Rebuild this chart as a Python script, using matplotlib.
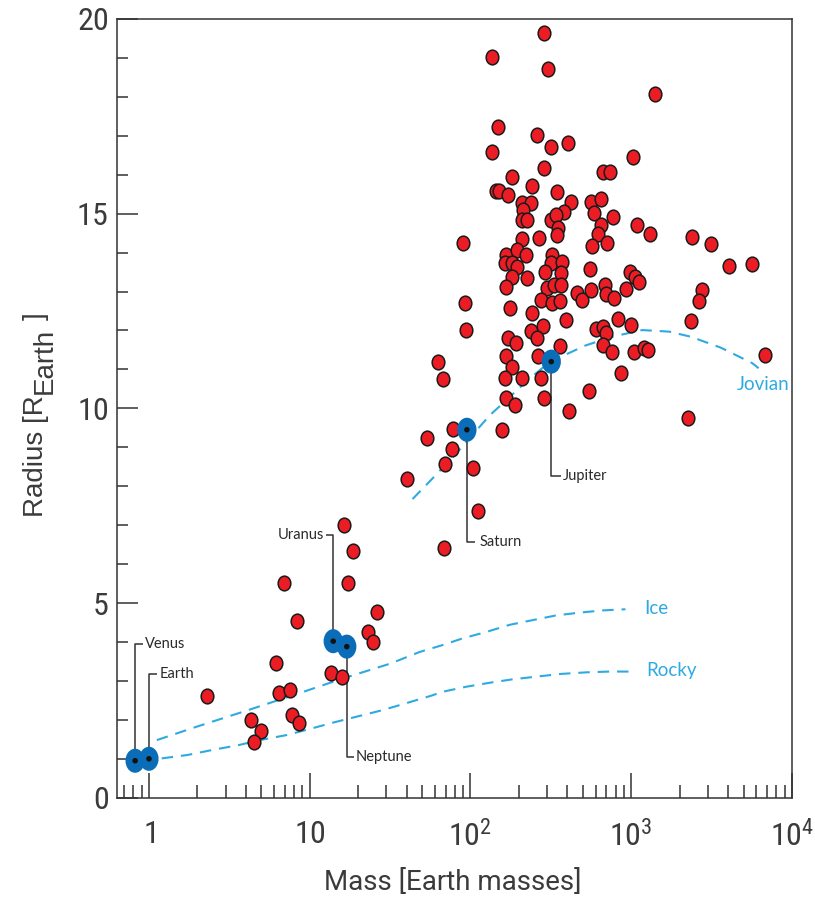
import numpy as np
import matplotlib
matplotlib.use('Agg')
import matplotlib.pyplot as plt
from matplotlib import font_manager as fm
from matplotlib.path import Path
from matplotlib.transforms import Affine2D
from matplotlib.ticker import FixedLocator, FixedFormatter, LogLocator, MultipleLocator, NullFormatter

# ---------------- data ----------------
exo_mass = [288, 137, 305, 1410, 149, 261, 318, 406, 137, 1030,
            288, 182, 670, 741, 243, 145, 151, 170, 347, 424,
            565, 651, 210, 239, 384, 589, 773, 213, 210, 226,
            318, 342, 352, 347, 651, 624, 1090, 1310, 2390, 3140,
            89.2, 210, 268, 572, 709, 167, 196, 220, 163, 182,
            323, 318, 373, 4060, 5650, 196, 180, 226, 292, 367,
            556, 986, 1060, 1120, 167, 301, 332, 367, 462, 496,
            565, 690, 699, 784, 931, 2760, 2640, 91.8, 276, 323,
            362, 175, 243, 395, 830, 1000, 2360, 94.4, 239, 284,
            261, 606, 670, 699, 172, 193, 670, 762, 362, 1040,
            1200, 1280, 62.4, 67.0, 167, 264, 180, 163, 210, 276,
            867, 6800, 548, 288, 167, 188, 412, 2260, 53.3, 77.3,
            156, 76.2, 69.9, 40.0, 104, 112, 68.0,
            2.29, 4.30, 4.96, 4.49, 6.15, 6.42, 7.51, 7.73, 8.54, 6.90,
            8.30, 13.5, 15.8, 16.3, 18.5, 17.2, 26.1, 22.9, 24.6]
exo_radius = [19.64, 19.03, 18.72, 18.08, 17.23, 17.02, 16.71, 16.82, 16.59, 16.46,
              16.18, 15.94, 16.07, 16.07, 15.71, 15.58, 15.58, 15.48, 15.56, 15.30,
              15.30, 15.38, 15.28, 15.28, 15.04, 15.02, 14.92, 15.10, 14.84, 14.84,
              14.84, 14.97, 14.63, 14.45, 14.71, 14.48, 14.71, 14.48, 14.40, 14.22,
              14.25, 14.35, 14.38, 14.17, 14.25, 13.94, 14.07, 13.94, 13.73, 13.73,
              13.94, 13.73, 13.76, 13.66, 13.71, 13.63, 13.38, 13.35, 13.50, 13.48,
              13.58, 13.50, 13.38, 13.25, 13.12, 13.09, 13.17, 13.17, 12.96, 12.78,
              13.04, 13.17, 12.94, 12.84, 13.07, 13.04, 12.76, 12.71, 12.78, 12.71,
              12.76, 12.58, 12.45, 12.27, 12.30, 12.14, 12.25, 12.01, 11.99, 12.12,
              11.81, 12.04, 12.09, 11.94, 11.81, 11.68, 11.63, 11.45, 11.60, 11.45,
              11.55, 11.50, 11.19, 10.76, 11.35, 11.35, 11.06, 10.78, 10.78, 10.78,
              10.91, 11.37, 10.45, 10.27, 10.27, 10.09, 9.93, 9.75, 9.24, 9.47,
              9.45, 8.96, 8.57, 8.19, 8.47, 7.36, 6.41,
              2.61, 2.00, 1.71, 1.43, 3.46, 2.69, 2.77, 2.12, 1.92, 5.51,
              4.54, 3.20, 3.10, 7.00, 6.34, 5.51, 4.77, 4.26, 4.00]

planet_names = ['Venus', 'Earth', 'Uranus', 'Neptune', 'Saturn', 'Jupiter']
planet_mass = [0.82, 1.0, 14.0, 17.0, 95.0, 318.0]
planet_radius = [0.95, 1.0, 4.02, 3.88, 9.45, 11.2]

rocky_mass = [1.2, 1.75, 2.5, 3.6, 4.9, 7.2, 10.3, 14.3, 20.4, 28.4, 40, 57, 67, 94,
              135, 182, 257, 367, 525, 730, 980]
rocky_radius = [1.01, 1.10, 1.23, 1.35, 1.48, 1.61, 1.78, 1.94, 2.10, 2.25, 2.43, 2.62,
                2.72, 2.85, 2.96, 3.04, 3.11, 3.18, 3.22, 3.24, 3.24]

ice_mass = [1.12, 2, 4, 8, 16, 32, 48, 67, 89, 126, 175, 243, 339, 468, 660, 920]
ice_radius = [1.48, 1.83, 2.23, 2.64, 3.06, 3.45, 3.74, 3.92, 4.09, 4.26, 4.44, 4.56,
              4.68, 4.75, 4.81, 4.84]

jovian_mass = [43.6, 61.3, 85.2, 131, 172, 232, 318, 405, 516, 763, 1170, 1720, 2340,
               3600, 5660, 6200]
jovian_radius = [7.67, 8.30, 8.93, 9.81, 10.26, 10.76, 11.22, 11.41, 11.61, 11.84, 12.01,
                 11.97, 11.84, 11.56, 11.16, 11.03]

x_ticks = [1, 10, 100, 1000, 10000]
x_tick_labels = ['1', '10', '10^{2}', '10^{3}', '10^{4}']
y_ticks = [0, 5, 10, 15, 20]
y_tick_labels = ['0', '5', '10', '15', '20']

# ---------------- fonts ----------------
def find_narrow():
    prefs = ['Roboto Condensed', 'Liberation Sans Narrow', 'Arial Narrow', 'Noto Sans',
             'Open Sans', 'DejaVu Sans', 'Roboto', 'Lato', 'Inter']
    cands = {}
    for f in fm.fontManager.ttflist:
        st = str(f.stretch)
        if st not in ('condensed', 'semi-condensed', 'extra-condensed'):
            continue
        if f.style != 'normal':
            continue
        if str(f.weight) not in ('400', 'normal', 'regular', 'book'):
            continue
        cands.setdefault(f.name, st)
    for p in prefs:
        if p in cands:
            return p, cands[p]
    if cands:
        n = sorted(cands)[0]
        return n, cands[n]
    return None, None

narrow_name, narrow_stretch = find_narrow()
if narrow_name:
    tick_pattern = '%s:stretch=%s:weight=normal' % (narrow_name, narrow_stretch)
    tick_size = 23
else:
    tick_pattern = 'Roboto'
    tick_size = 20

plt.rcParams['mathtext.fontset'] = 'custom'
plt.rcParams['mathtext.rm'] = 'Roboto'
plt.rcParams['mathtext.sf'] = tick_pattern
plt.rcParams['font.family'] = ['Roboto', 'DejaVu Sans']

RED = '#ec1c24'
PBLUE = '#0b6db8'
LBLUE = '#2eaae2'
DARK = '#333333'
TXT = '#3b3b3b'

ell = Path.unit_circle().transformed(Affine2D().scale(0.86, 1.0))
ell_b = Path.unit_circle().transformed(Affine2D().scale(0.80, 1.0))

fig = plt.figure(figsize=(8.15, 9.02), dpi=100)
ax = fig.add_axes([0.1436, 0.1156, 0.8282, 0.8634])
ax.set_xscale('log')
ax.set_xlim(0.633, 1e4)
ax.set_ylim(0, 20)

dash = (0, (5.5, 3.8))
ax.plot(rocky_mass, rocky_radius, color=LBLUE, lw=1.5, ls=dash, zorder=2)
ax.plot(ice_mass, ice_radius, color=LBLUE, lw=1.5, ls=dash, zorder=2)
ax.plot(jovian_mass, jovian_radius, color=LBLUE, lw=1.5, ls=dash, zorder=2)

lab_font = ['Lato', 'DejaVu Sans']
ax.text(1205, 4.87, 'Ice', color=LBLUE, fontsize=13.5, family=lab_font, ha='left', va='center')
ax.text(1239, 3.27, 'Rocky', color=LBLUE, fontsize=13.5, family=lab_font, ha='left', va='center')
ax.text(4550, 10.62, 'Jovian', color=LBLUE, fontsize=13.5, family=lab_font, ha='left', va='center')

ax.scatter(exo_mass, exo_radius, s=112, marker=ell, facecolor=RED, edgecolor='#1a1a1a',
           linewidth=1.1, zorder=4)

# planet leader lines: (elbow radius, end mass, text mass, ha)
leaders = {
    'Venus': (3.95, 0.918, 0.944, 'left'),
    'Earth': (3.18, 1.12, 1.16, 'left'),
    'Uranus': (6.75, 12.7, 12.3, 'right'),
    'Neptune': (1.04, 18.8, 19.4, 'left'),
    'Saturn': (6.58, 106, 114, 'left'),
    'Jupiter': (8.27, 366, 374, 'left'),
}
for name, m, r in zip(planet_names, planet_mass, planet_radius):
    er, em, tm, ha = leaders[name]
    ax.plot([m, m, em], [r, er, er], color=DARK, lw=1.1, zorder=3, solid_capstyle='butt')
    ax.text(tm, er, name, fontsize=10.5, color='#2a2a2a', family=lab_font,
            ha=ha, va='center', zorder=6)

ax.scatter(planet_mass, planet_radius, s=300, marker=ell_b, facecolor=PBLUE,
           edgecolor='none', zorder=5)
ax.scatter(planet_mass, planet_radius, s=16, marker='o', facecolor='#111111',
           edgecolor='none', zorder=6)

# axes styling
for sp in ax.spines.values():
    sp.set_color(DARK)
    sp.set_linewidth(1.1)

ax.xaxis.set_major_locator(FixedLocator(x_ticks))
ax.xaxis.set_major_formatter(FixedFormatter([r'$\mathsf{%s}$' % t for t in x_tick_labels]))
ax.xaxis.set_minor_locator(LogLocator(base=10, subs=np.arange(2, 10), numticks=30))
ax.xaxis.set_minor_formatter(NullFormatter())
ax.yaxis.set_major_locator(FixedLocator(y_ticks))
ax.yaxis.set_major_formatter(FixedFormatter([r'$\mathsf{%s}$' % t for t in y_tick_labels]))
ax.yaxis.set_minor_locator(MultipleLocator(1))

ax.tick_params(axis='x', which='major', direction='in', length=18, width=1.1, pad=16,
               labelsize=tick_size, labelcolor=TXT, color=DARK, top=False)
ax.tick_params(axis='x', which='minor', direction='in', length=9.4, width=1.1, color=DARK,
               top=False)
ax.tick_params(axis='y', which='major', direction='in', length=15, width=1.1, pad=6,
               labelsize=tick_size, labelcolor=TXT, color=DARK, right=False)
ax.tick_params(axis='y', which='minor', direction='in', length=8, width=1.1, color=DARK,
               right=False)

fig.text(453 / 815, 1 - 882 / 902, 'Mass [Earth masses]', fontsize=20, color=TXT,
         ha='center', va='center')

# y label: "Radius [R" + large subscript "Earth" + " ]"
yl_font = ['Liberation Sans', 'DejaVu Sans']
yl_kw = dict(fontsize=20, color=TXT, family=yl_font, rotation=90, rotation_mode='anchor',
             ha='left', va='baseline')
t1 = fig.text(43 / 815, 1 - 517 / 902, 'Radius [R', **yl_kw)
fig.canvas.draw()
r = fig.canvas.get_renderer()
top1 = t1.get_window_extent(r).y1
t2 = fig.text(52 / 815, (top1 + 1) / 902, 'Earth', **yl_kw)
fig.canvas.draw()
top2 = t2.get_window_extent(r).y1
fig.text(43 / 815, (top2 + 8) / 902, ']', **yl_kw)

fig.savefig('out.png', dpi=100)
